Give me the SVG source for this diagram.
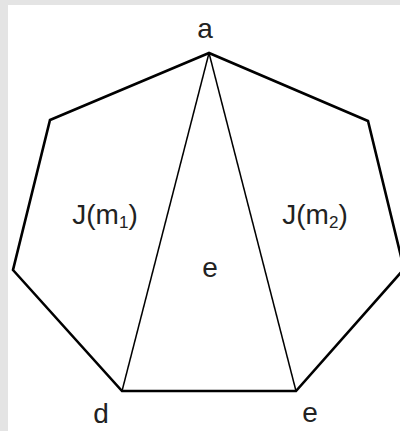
<svg xmlns="http://www.w3.org/2000/svg" width="400" height="431" viewBox="0 0 400 431">
<style>
.lbl{font-family:"Liberation Sans",Arial,sans-serif;font-size:28px;fill:#222;text-anchor:middle}
.sub{font-size:17px}
.outer{fill:none;stroke:#000;stroke-width:2.6;stroke-linejoin:miter}
.inner{fill:none;stroke:#000;stroke-width:1.5}
</style>
<rect x="0" y="0" width="400" height="431" fill="#e4e4e4"/>
<rect x="8" y="5" width="392" height="426" fill="#fff"/>
<g id="edges">
<polygon class="outer" points="209,53 50,120 13,270 122,391 296,391 404,269 368,121"/>
<line class="inner" x1="209" y1="53" x2="122" y2="391"/>
<line class="inner" x1="209" y1="53" x2="296" y2="391"/>
</g>
<g id="node-a"><text class="lbl" x="205" y="38">a</text></g>
<g id="node-d"><text class="lbl" x="101" y="423">d</text></g>
<g id="node-e"><text class="lbl" x="310" y="422">e</text></g>
<g id="face-m1"><text class="lbl" x="105" y="224">J(m<tspan class="sub" dy="4">1</tspan><tspan dy="-4">)</tspan></text></g>
<g id="face-m2"><text class="lbl" x="315" y="224">J(m<tspan class="sub" dy="4">2</tspan><tspan dy="-4">)</tspan></text></g>
<g id="face-e"><text class="lbl" x="210" y="277">e</text></g>
</svg>
